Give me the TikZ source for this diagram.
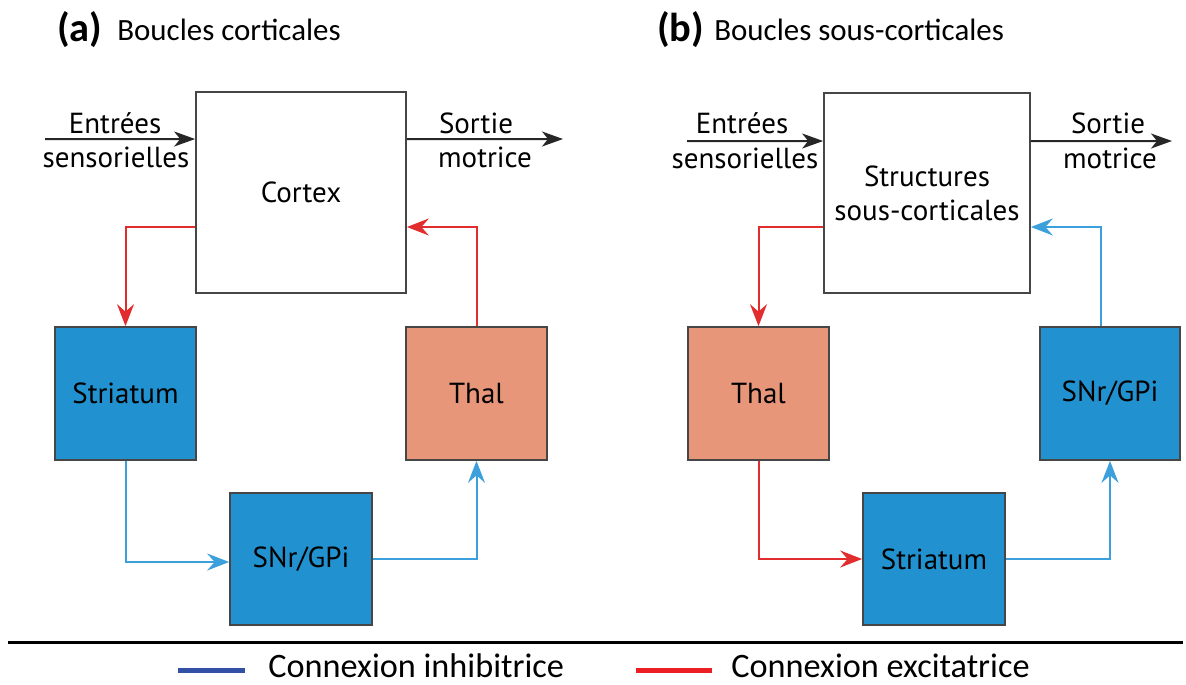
\documentclass[tikz,border=0pt]{standalone}
\usepackage{fontspec}
\setmainfont{PT Sans}
\newfontfamily\calib{Carlito}
\usetikzlibrary{arrows.meta}
\definecolor{boxblue}{RGB}{33,145,207}
\definecolor{salmon}{RGB}{232,150,122}
\definecolor{inhib}{RGB}{60,160,220}
\definecolor{excit}{RGB}{225,45,45}
\definecolor{legblue}{RGB}{50,80,165}
\definecolor{legred}{RGB}{235,30,35}
\definecolor{edge}{RGB}{70,70,70}
\tikzset{
  box/.style={draw=edge, line width=0.035cm, inner sep=0pt, align=center, font=\fontsize{16.5}{19.5}\selectfont},
  bluebox/.style={box, fill=boxblue, minimum width=2.82cm, minimum height=2.66cm},
  thalbox/.style={box, fill=salmon, minimum width=2.82cm, minimum height=2.66cm},
  tip/.style={-{Stealth[length=0.44cm, width=0.34cm, inset=0.15cm]}},
  exc/.style={tip, draw=excit, line width=0.04cm},
  inh/.style={tip, draw=inhib, line width=0.04cm},
  io/.style={-{Stealth[length=0.42cm, width=0.3cm, inset=0.12cm]}, draw=black!85, line width=0.04cm},
  lbl/.style={font=\fontsize{16.5}{19.5}\selectfont, inner sep=0pt},
  ttl/.style={font=\calib\fontsize{17.6}{20}\selectfont, inner sep=0pt, anchor=west},
  leg/.style={font=\calib\fontsize{19.5}{22}\selectfont, inner sep=0pt, anchor=west},
}
\begin{document}
\begin{tikzpicture}[x=0.02cm, y=-0.02cm]
\useasboundingbox (0,0) rectangle (1186,684);
% titles
\node[ttl, font=\calib\bfseries\fontsize{23}{26}\selectfont] (ta) at (57,30) {(a)};
\node[ttl] (tat) at (117,30) {Boucles corticales};
\node[ttl, font=\calib\bfseries\fontsize{23}{26}\selectfont] (tb) at (657,30) {(b)};
\node[ttl] (tbt) at (714,30) {Boucles sous-corticales};

% ---- panel (a)
\node[box, minimum width=4.2cm, minimum height=4.02cm] (cortex) at (301,192.5) {Cortex};
\node[bluebox] (striA) at (125.5,393.5) {Striatum};
\node[thalbox] (thalA) at (476.5,393.5) {Thal};
\node[bluebox, minimum width=2.84cm, minimum height=2.64cm] (snrA) at (301,559) {SNr/GPi};
\coordinate (inA) at (45,139);
\coordinate (outA) at (563,139);
\draw[io] (inA) -- ([yshift=1.07cm]cortex.west);
\draw[io] ([yshift=1.07cm]cortex.east) -- (outA);
\node[lbl] (inA1) at (115,123) {Entrées};
\node[lbl] (inA2) at (116,157) {sensorielles};
\node[lbl] (outA1) at (476,123) {Sortie};
\node[lbl] (outA2) at (485,157) {motrice};
\draw[exc] ([yshift=-0.69cm]cortex.west) -| (striA.north);
\draw[exc] (thalA.north) |- ([yshift=-0.69cm]cortex.east);
\draw[inh] (striA.south) |- ([yshift=-0.06cm]snrA.west);
\draw[inh] (snrA.east) -| (thalA.south);

% ---- panel (b)
\node[box, minimum width=4.12cm, minimum height=4.0cm] (struct) at (927,193) {Structures\\sous-corticales};
\node[thalbox] (thalB) at (758.5,393.5) {Thal};
\node[bluebox, minimum width=2.8cm] (snrB) at (1110,393.5) {SNr/GPi};
\node[bluebox, minimum width=2.84cm, minimum height=2.64cm] (striB) at (934,559) {Striatum};
\coordinate (inB) at (687,141);
\coordinate (outB) at (1172,141);
\draw[io] (inB) -- ([yshift=1.04cm]struct.west);
\draw[io] ([yshift=1.04cm]struct.east) -- (outB);
\node[lbl] (inB1) at (742,123) {Entrées};
\node[lbl] (inB2) at (745,158) {sensorielles};
\node[lbl] (outB1) at (1108,123) {Sortie};
\node[lbl] (outB2) at (1110,158) {motrice};
\draw[exc] ([yshift=-0.68cm]struct.west) -| (thalB.north);
\draw[inh] ([xshift=-0.18cm]snrB.north) |- ([yshift=-0.68cm]struct.east);
\draw[exc] (thalB.south) |- (striB.west);
\draw[inh] (striB.east) -| (snrB.south);

% ---- legend
\coordinate (sepL) at (8,642);
\coordinate (sepR) at (1183,642);
\draw[line width=0.06cm, black] (sepL) -- (sepR);
\coordinate (lb1) at (178,670);
\coordinate (lb2) at (245,670);
\coordinate (lr1) at (636,670);
\coordinate (lr2) at (712,670);
\draw[line width=0.1cm, legblue] (lb1) -- (lb2);
\draw[line width=0.1cm, legred] (lr1) -- (lr2);
\node[leg] (legi) at (268,666) {Connexion inhibitrice};
\node[leg] (lege) at (731,666) {Connexion excitatrice};
\end{tikzpicture}
\end{document}
